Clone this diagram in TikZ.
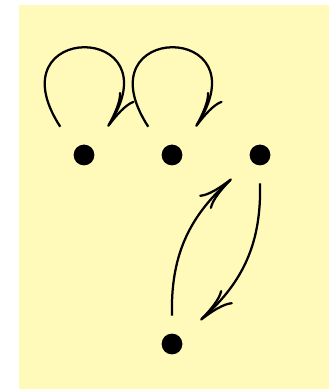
\documentclass[tikz,border=0pt]{standalone}
\usetikzlibrary{arrows.meta}
\definecolor{bgYellow}{RGB}{255,249,186}

\begin{document}
\begin{tikzpicture}[
      st/.style={minimum size=1.4cm,inner sep=0pt,
                 path picture={\fill (path picture bounding box.center) circle (0.26cm);}},
      arr/.style={-{To[length=9mm,width=4.6mm]},line width=1.6pt}]
    \useasboundingbox (0,0) rectangle (8.225,9.725);
    \fill[bgYellow] (0.475,0) rectangle (8.225,9.6);
    \node[st] (a) at (2.1,5.85) {};
    \node[st] (b) at (4.3,5.85) {};
    \node[st] (c) at (6.5,5.85) {};
    \node[st] (d) at (4.3,1.125) {};
    \draw[arr] (a.130) .. controls +(123:3.15) and +(57:3.15) .. (a.50);
    \draw[arr] (b.130) .. controls +(123:3.15) and +(57:3.15) .. (b.50);
    \draw[arr] (d) to[bend left=25] (c);
    \draw[arr] (c) to[bend left=25] (d);
\end{tikzpicture}
\end{document}
